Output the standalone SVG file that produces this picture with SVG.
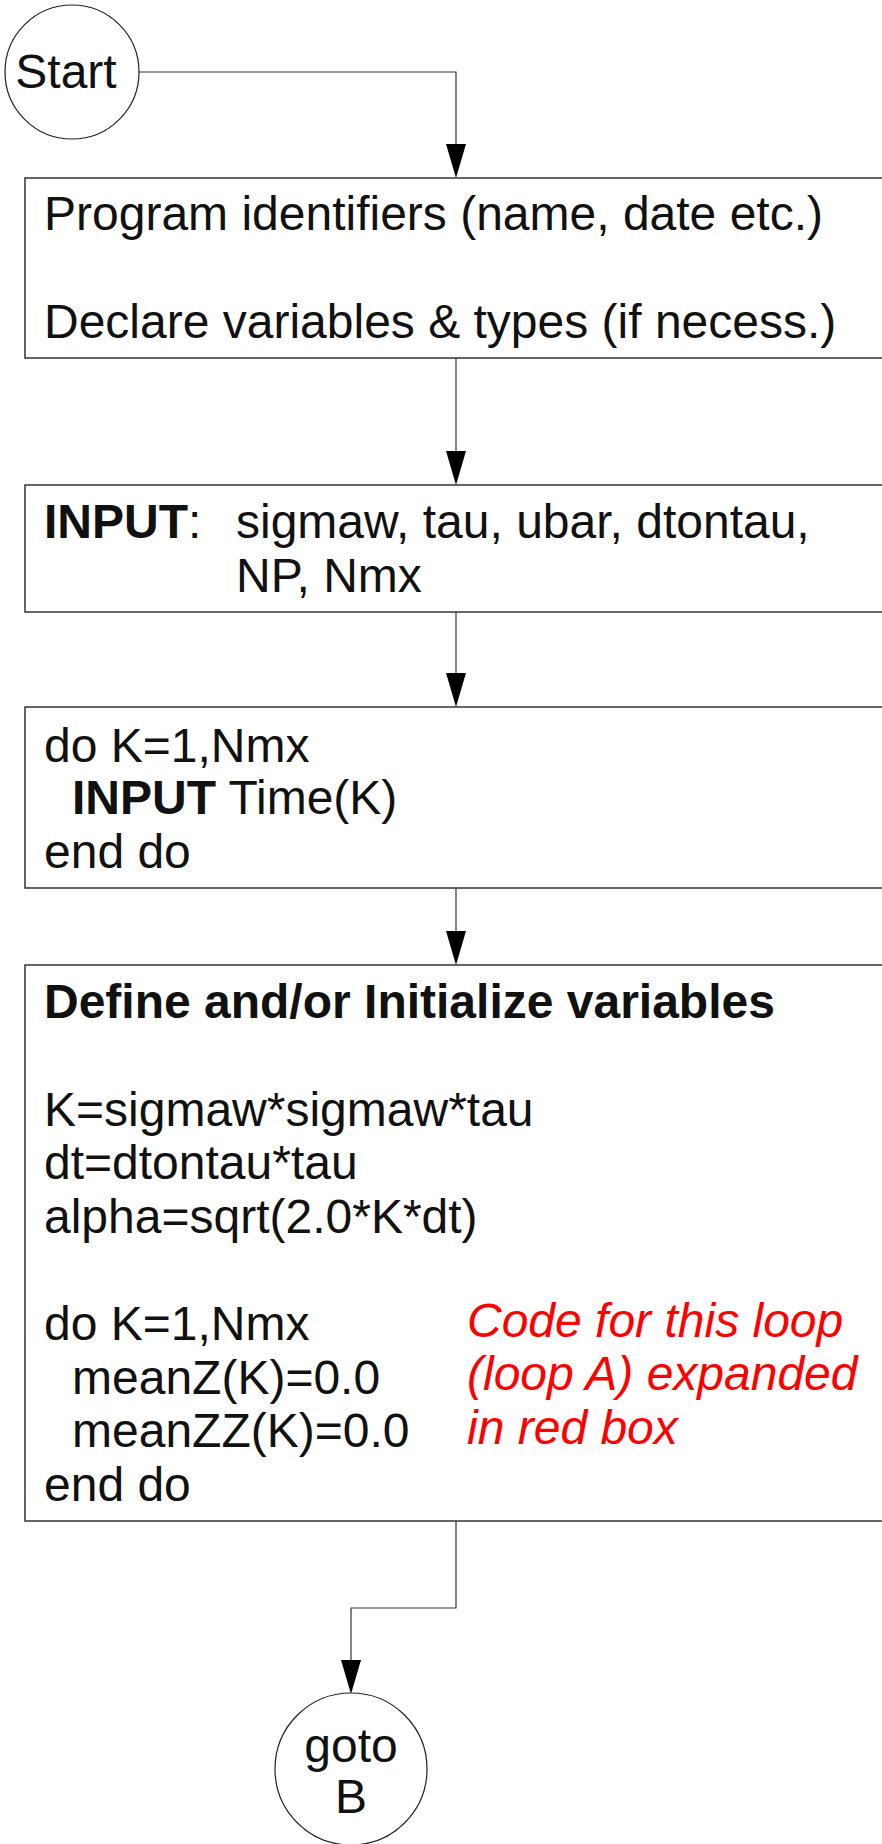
<svg xmlns="http://www.w3.org/2000/svg" width="882" height="1844" viewBox="0 0 882 1844">
<defs>
<style>
.box{fill:#fff;stroke:#333;stroke-width:1.5}
.node{fill:#fff;stroke:#222;stroke-width:1.2}
.conn{fill:none;stroke:#333;stroke-width:1.2}
.head{fill:#000}
text{font-family:"Liberation Sans",Arial,sans-serif;font-size:48px;fill:#111}
.b{font-weight:bold}
.red{fill:#ff0000;font-style:italic}
.c{text-anchor:middle}
</style>
</defs>
<rect width="882" height="1844" fill="#fff"/>
<g id="connectors">
<path class="conn" d="M139,72 H456 V144"/>
<path class="head" d="M446,144 L466,144 L456,178 Z"/>
<path class="conn" d="M456,358 V451"/>
<path class="head" d="M446,451 L466,451 L456,485 Z"/>
<path class="conn" d="M456,612 V673"/>
<path class="head" d="M446,673 L466,673 L456,707 Z"/>
<path class="conn" d="M456,888 V931"/>
<path class="head" d="M446,931 L466,931 L456,965 Z"/>
<path class="conn" d="M456,1521 V1608 H351 V1660"/>
<path class="head" d="M341,1660 L361,1660 L351,1694 Z"/>
</g>
<g id="start">
<circle class="node" cx="72" cy="72" r="67"/>
<text x="66" y="88" class="c">Start</text>
</g>
<g id="box1">
<rect class="box" x="25" y="178" width="870" height="180"/>
<text x="44" y="230">Program identifiers (name, date etc.)</text>
<text x="44" y="338">Declare variables &amp; types (if necess.)</text>
</g>
<g id="box2">
<rect class="box" x="25" y="485" width="870" height="127"/>
<text x="44" y="538"><tspan class="b">INPUT</tspan>:</text>
<text x="236" y="538">sigmaw, tau, ubar, dtontau,</text>
<text x="236" y="592">NP, Nmx</text>
</g>
<g id="box3">
<rect class="box" x="25" y="707" width="870" height="181"/>
<text x="44" y="762">do K=1,Nmx</text>
<text x="72" y="814"><tspan class="b">INPUT</tspan> Time(K)</text>
<text x="44" y="868">end do</text>
</g>
<g id="box4">
<rect class="box" x="25" y="965" width="870" height="556"/>
<text x="44" y="1018" class="b">Define and/or Initialize variables</text>
<text x="44" y="1126">K=sigmaw*sigmaw*tau</text>
<text x="44" y="1179">dt=dtontau*tau</text>
<text x="44" y="1233">alpha=sqrt(2.0*K*dt)</text>
<text x="44" y="1340">do K=1,Nmx</text>
<text x="72" y="1394">meanZ(K)=0.0</text>
<text x="72" y="1447">meanZZ(K)=0.0</text>
<text x="44" y="1501">end do</text>
<text x="467" y="1337" class="red">Code for this loop</text>
<text x="467" y="1390" class="red">(loop A) expanded</text>
<text x="467" y="1444" class="red">in red box</text>
</g>
<g id="gotoB">
<circle class="node" cx="351" cy="1769" r="76"/>
<text x="351" y="1762" class="c">goto</text>
<text x="351" y="1813" class="c">B</text>
</g>
</svg>
